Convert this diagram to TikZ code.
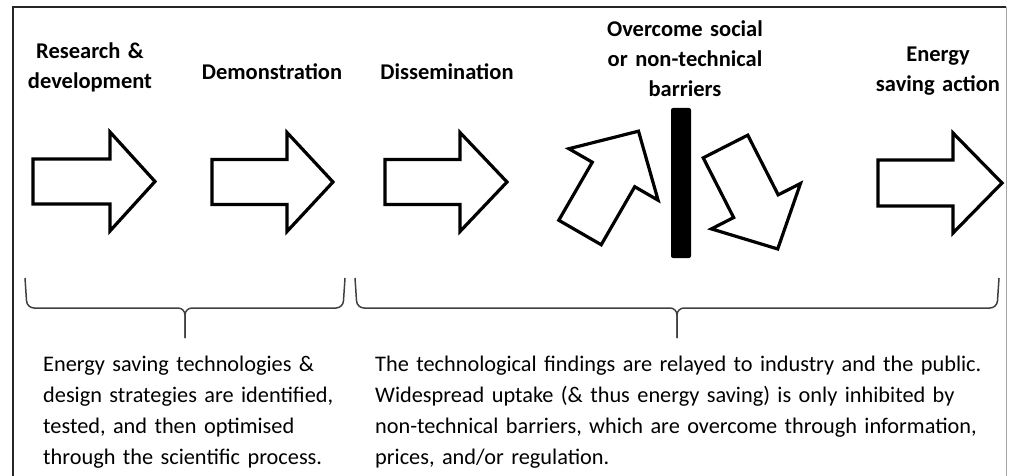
\documentclass[tikz,border=0pt]{standalone}
\usepackage{fontspec}
\setmainfont{Carlito}
\newcommand\blockarrow[7]{%
  \draw[arrowline, shift={(#1,#2)}, rotate=#3]
    (0,-#4) -- (#5,-#4) -- (#5,-#6) -- ({#5+#7},0) -- (#5,#6) -- (#5,#4) -- (0,#4) -- cycle;}
\begin{document}
\begin{tikzpicture}[x=1pt,y=-1pt,
  arrowline/.style={draw=black, line width=3.2pt, line join=miter, fill=white},
  bracel/.style={draw=black!75, line width=1.5pt, rounded corners=7pt},
  title/.style={font=\fontsize{22.5}{30}\selectfont\bfseries, align=center, text width=240pt, inner sep=0pt, anchor=base},
  body/.style={font=\fontsize{22.3}{31}\selectfont, align=left, text width=#1, inner sep=0pt, anchor=base west},
]
\useasboundingbox (0,0) rectangle (1011,476);
% frame
\draw[black!85, line width=2pt] (13,478) -- (13,7) -- (1006,7);
\draw[black!35, line width=1pt] (1006,7) -- (1006,478);
% titles
\node[title] (rd) at (90,59) {Research \&\\development};
\node[title] (demo) at (272,80) {Demonstration};
\node[title] (diss) at (447,80) {Dissemination};
\node[title] (over) at (685,37) {Overcome social\\or non-technical\\barriers};
\node[title] (act) at (938,62) {Energy\\saving action};
% arrows
\blockarrow{33}{181.5}{0}{22.5}{77}{49.5}{45}
\blockarrow{212}{182}{0}{22.5}{75}{49.5}{46}
\blockarrow{385}{182}{0}{22.5}{75}{49.5}{47}
\blockarrow{580}{232.5}{60}{24.5}{67}{51.5}{50}
\blockarrow{725.5}{146.5}{-63}{25}{67}{50}{48}
\blockarrow{878}{183}{0}{23}{75}{50}{49}
% barrier
\fill[black, rounded corners=2pt] (671,108) rectangle (691,258);
% braces
\coordinate (b1) at (185,338);
\coordinate (b2) at (677,338);
\draw[bracel] (25,278) -- (27,308) -- (185,308) -- (b1);
\draw[bracel] (345,278) -- (343,308) -- (185,308) -- (b1);
\draw[bracel] (355,278) -- (357,308) -- (677,308) -- (b2);
\draw[bracel] (999,278) -- (997,308) -- (677,308) -- (b2);
% body texts
\node[body=310pt] (t1) at (43,371) {Energy saving technologies \&\\design strategies are identified,\\tested, and then optimised\\through the scientific process.};
\node[body=630pt] (t2) at (375,371) {The technological findings are relayed to industry and the public.\\Widespread uptake (\& thus energy saving) is only inhibited by\\non-technical barriers, which are overcome through information,\\prices, and/or regulation.};
\end{tikzpicture}
\end{document}
